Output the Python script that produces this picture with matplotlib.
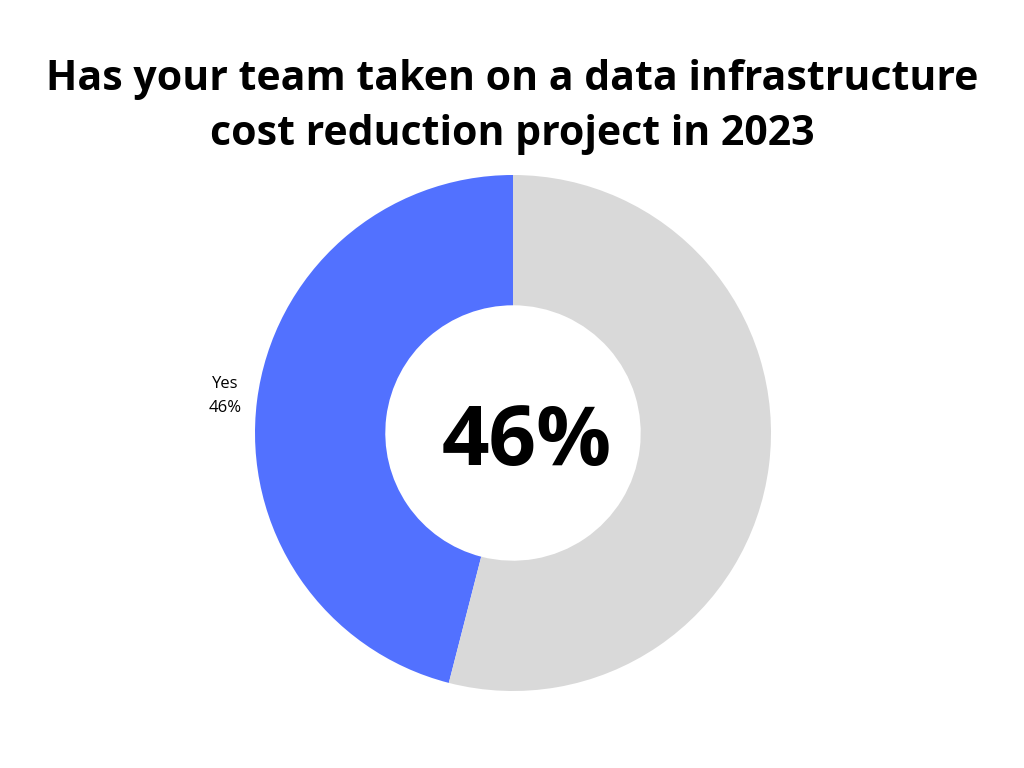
import matplotlib.pyplot as plt

labels = ["Yes", "No"]
shares = [46, 54]
colors = ["#5271FF", "#D9D9D9"]
title = "Has your team taken on a data infrastructure\ncost reduction project in 2023"

plt.rcParams['font.family'] = ['Open Sans', 'DejaVu Sans']

fig = plt.figure(figsize=(10.24, 7.68), dpi=100)
ax = fig.add_axes([0, 0, 1, 1])
ax.set_xlim(0, 1024)
ax.set_ylim(768, 0)
ax.axis('off')

# donut drawn with pie in its own axes, placed to match the reference
pax = fig.add_axes([(513 - 258) / 1024, (768 - 433 - 258) / 768, 516 / 1024, 516 / 768])
wedges, _ = pax.pie(shares, colors=colors, startangle=90, counterclock=True,
                    wedgeprops=dict(width=0.505, linewidth=0))
pax.set_xlim(-1, 1)
pax.set_ylim(-1, 1)
pax.set_aspect('equal')

ax.text(512, 107, title, ha='center', va='center', fontsize=29.5, fontweight='bold',
        linespacing=1.45)
ax.text(527, 443, f"{shares[0]}%", ha='center', va='center', fontsize=60, fontweight='bold')
ax.text(225, 396, f"{labels[0]}\n{shares[0]}%", ha='center', va='center', fontsize=12,
        linespacing=1.6)

fig.savefig("out.png", dpi=100)
